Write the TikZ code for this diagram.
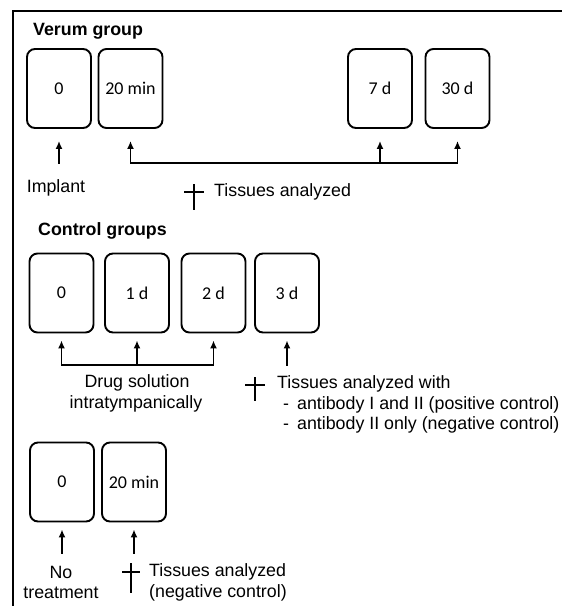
\documentclass[tikz,border=0pt]{standalone}
\usepackage{fontspec}
\setmainfont{Liberation Sans}
\newfontfamily\boxfont{Carlito}
\usetikzlibrary{arrows.meta}

\begin{document}
\begin{tikzpicture}[x=1pt,y=-1pt,
    box/.style={draw, line width=1.9pt, rounded corners=8pt, minimum width=64pt,
      minimum height=79pt, inner sep=0pt, font=\boxfont\fontsize{18}{20}\selectfont},
    arr/.style={line width=1.7pt, line cap=rect, -{Latex[length=8pt,width=7pt]}},
    txt/.style={inner sep=0pt, font=\fontsize{17.8}{20}\selectfont},
    head/.style={inner sep=0pt, anchor=west, font=\bfseries\fontsize{17.8}{20}\selectfont},
    cross/.style={line width=2.2pt}]
\useasboundingbox (0,0) rectangle (562,606);
\draw[line width=1.8pt] (562,11) -- (13,11) -- (13,606);

% verum group
\node[head] (verum) at (33,31) {Verum group};
\node[box] (v0) at (59,88.5) {0};
\node[box] (v20) at (130.5,88.5) {20 min};
\node[box] (v7) at (380,88.5) {7 d};
\node[box] (v30) at (457.5,88.5) {30 d};
\coordinate (vbar) at (0,163);
\draw[arr] (v0.south |- vbar) -- ([yshift=-12pt]v0.south);
\draw[arr] (v20.south |- vbar) -- (v30.south |- vbar) -- ([yshift=-12pt]v30.south);
\draw[arr] (v20.south |- vbar) -- ([yshift=-12pt]v20.south);
\draw[arr] (v7.south |- vbar) -- ([yshift=-12pt]v7.south);
\node[txt] (implant) at (56,188) {Implant};
\coordinate (vx) at (194,192);
\draw[cross] ([yshift=8pt]vx) -- ([yshift=-18pt]vx) ([xshift=-10pt]vx) -- ([xshift=10pt]vx);
\node[txt, anchor=west] (vtis) at (214,192) {Tissues analyzed};

% control groups
\node[head] (control) at (38,231) {Control groups};
\node[box] (c0) at (61.5,293) {0};
\node[box] (c1) at (137,293) {1 d};
\node[box] (c2) at (213.5,293) {2 d};
\node[box] (c3) at (287,293) {3 d};
\coordinate (cbar) at (0,365);
\draw[arr] (c0.south |- cbar) -- (c2.south |- cbar) -- ([yshift=-7pt]c2.south);
\draw[arr] (c0.south |- cbar) -- ([yshift=-7pt]c0.south);
\draw[arr] (c1.south |- cbar) -- ([yshift=-7pt]c1.south);
\draw[arr] (c3.south |- cbar) -- ([yshift=-7pt]c3.south);
\node[txt] (drug) at (137,383) {Drug solution};
\node[txt] (intra) at (136,404) {intratympanically};
\coordinate (cx) at (255,385);
\draw[cross] ([yshift=8pt]cx) -- ([yshift=-16pt]cx) ([xshift=-10pt]cx) -- ([xshift=10pt]cx);
\node[txt, anchor=west] (ctis) at (277,384) {Tissues analyzed with};
\node[txt, anchor=west] (ab1) at (283,405) {-\hspace{8pt}antibody I and II (positive control)};
\node[txt, anchor=west] (ab2) at (283,425) {-\hspace{8pt}antibody II only (negative control)};

% no treatment
\node[box] (n0) at (62,482) {0};
\node[box] (n20) at (134,482) {20 min};
\coordinate (nbar) at (0,553);
\draw[arr] (n0.south |- nbar) -- ([yshift=-7pt]n0.south);
\draw[arr] (n20.south |- nbar) -- ([yshift=-7pt]n20.south);
\node[txt] (no) at (61,572) {No};
\node[txt] (treat) at (61,593) {treatment};
\coordinate (nx) at (131,572);
\draw[cross] ([yshift=9pt]nx) -- ([yshift=-21pt]nx) ([xshift=-9pt]nx) -- ([xshift=9pt]nx);
\node[txt, anchor=west] (ntis) at (149,572) {Tissues analyzed};
\node[txt, anchor=west] (nneg) at (149,593) {(negative control)};
\end{tikzpicture}
\end{document}
